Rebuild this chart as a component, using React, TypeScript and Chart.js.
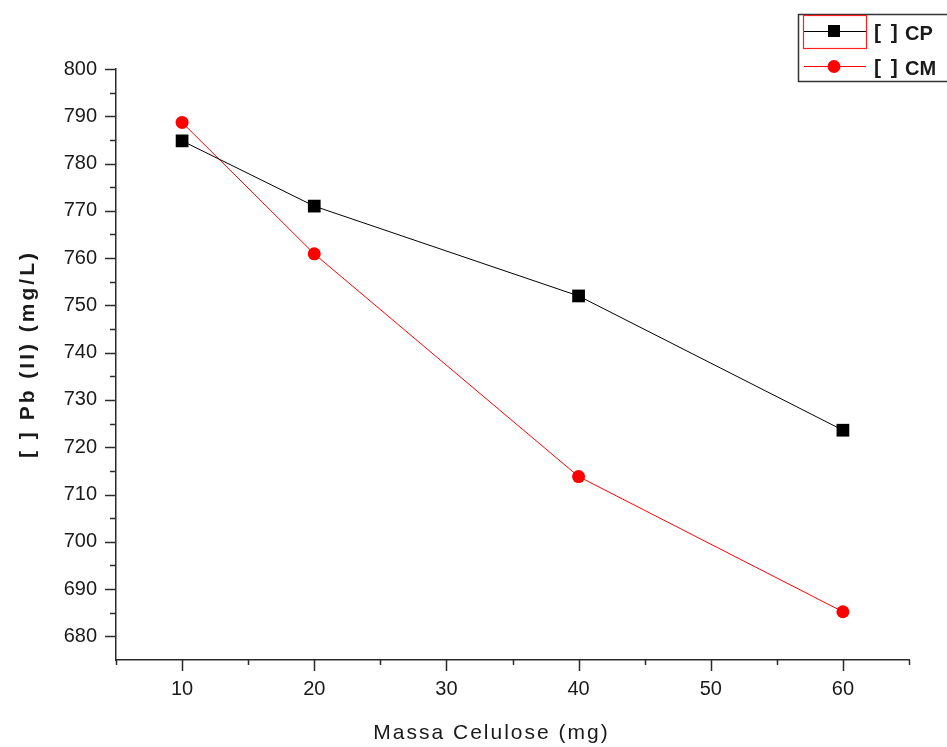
import React, { useEffect, useRef } from "react";
import { Chart, registerables } from "chart.js";

Chart.register(...registerables);

const massa = [10, 20, 40, 60];
const cpValues = [784.8, 771, 752, 723.6];
const cmValues = [788.7, 760.9, 713.8, 685.2];
const xMajorTicks = [10, 20, 30, 40, 50, 60];
const xMinorTicks = [5, 15, 25, 35, 45, 55, 65];
const yMajorTicks = [680, 690, 700, 710, 720, 730, 740, 750, 760, 770, 780, 790, 800];
const yMinorTicks = [685, 695, 705, 715, 725, 735, 745, 755, 765, 775, 785, 795];
const seriesNames = ["CP", "CM"];
const xTitle = "Massa Celulose (mg)";
const yTitle = "[ ] Pb (II) (mg/L)";

const AXIS = "#2b2b2b";
const FONT = "Arial, 'Liberation Sans', sans-serif";

const decorPlugin = {
  id: "decor",
  afterDraw(chart: any) {
    const ctx = chart.ctx as CanvasRenderingContext2D;
    const xs = chart.scales.x;
    const ys = chart.scales.y;
    const area = chart.chartArea;
    ctx.save();
    ctx.strokeStyle = AXIS;
    ctx.lineWidth = 1.5;
    xMajorTicks.forEach((v) => {
      const px = Math.round(xs.getPixelForValue(v)) + 0.5;
      ctx.beginPath();
      ctx.moveTo(px, area.bottom);
      ctx.lineTo(px, area.bottom + 11);
      ctx.stroke();
    });
    xMinorTicks.forEach((v) => {
      const px = Math.round(xs.getPixelForValue(v)) + 0.5;
      ctx.beginPath();
      ctx.moveTo(px, area.bottom);
      ctx.lineTo(px, area.bottom + 5);
      ctx.stroke();
    });
    yMajorTicks.forEach((v) => {
      const py = Math.round(ys.getPixelForValue(v)) + 0.5;
      ctx.beginPath();
      ctx.moveTo(area.left, py);
      ctx.lineTo(area.left - 11, py);
      ctx.stroke();
    });
    yMinorTicks.forEach((v) => {
      const py = Math.round(ys.getPixelForValue(v)) + 0.5;
      ctx.beginPath();
      ctx.moveTo(area.left, py);
      ctx.lineTo(area.left - 6, py);
      ctx.stroke();
    });

    ctx.fillStyle = "#1a1a1a";
    (ctx as any).letterSpacing = "2px";
    ctx.font = `21px ${FONT}`;
    ctx.textAlign = "center";
    ctx.textBaseline = "middle";
    ctx.fillText(xTitle, (area.left + area.right) / 2 - 21, 733);

    ctx.save();
    ctx.translate(28, 354);
    ctx.rotate(-Math.PI / 2);
    (ctx as any).letterSpacing = "3px";
    ctx.font = `bold 21px ${FONT}`;
    ctx.fillText(yTitle, 0, 0);
    ctx.restore();
    (ctx as any).letterSpacing = "0px";

    // legend
    ctx.strokeStyle = "#333";
    ctx.lineWidth = 1.5;
    ctx.strokeRect(798.5, 14.5, 160, 67);
    ctx.strokeStyle = "#ff2020";
    ctx.lineWidth = 1.2;
    ctx.strokeRect(803.5, 15.5, 63, 33);

    ctx.strokeStyle = "#000";
    ctx.lineWidth = 1;
    ctx.beginPath();
    ctx.moveTo(804, 31.5);
    ctx.lineTo(866, 31.5);
    ctx.stroke();
    ctx.fillStyle = "#000";
    ctx.fillRect(828, 25, 12, 12);
    ctx.strokeStyle = "#ff0000";
    ctx.beginPath();
    ctx.moveTo(804, 66.5);
    ctx.lineTo(866, 66.5);
    ctx.stroke();
    ctx.fillStyle = "#ff0000";
    ctx.beginPath();
    ctx.arc(834, 66.5, 6.5, 0, Math.PI * 2);
    ctx.fill();

    ctx.textAlign = "left";
    ctx.textBaseline = "middle";
    ctx.fillStyle = "#1a1a1a";
    ctx.font = `bold 21px ${FONT}`;
    (ctx as any).letterSpacing = "2px";
    ctx.fillText("[ ]", 874, 33);
    ctx.fillText("[ ]", 874, 68);
    (ctx as any).letterSpacing = "0px";
    ctx.font = `bold 20px ${FONT}`;
    ctx.fillText(seriesNames[0], 905, 34);
    ctx.fillText(seriesNames[1], 905, 69);
    ctx.restore();
  },
};

export default function App() {
  const ref = useRef<HTMLCanvasElement>(null);
  useEffect(() => {
    document.body.style.margin = "0";
    const canvas = ref.current!;
    const chart = new Chart(canvas, {
      type: "line",
      data: {
        datasets: [
          {
            label: seriesNames[0],
            data: massa.map((x, i) => ({ x, y: cpValues[i] })),
            borderColor: "#000",
            backgroundColor: "#000",
            borderWidth: 1,
            pointStyle: "rect",
            pointRadius: 9,
            pointBorderWidth: 0,
            tension: 0,
          },
          {
            label: seriesNames[1],
            data: massa.map((x, i) => ({ x, y: cmValues[i] })),
            borderColor: "#ff0000",
            backgroundColor: "#ff0000",
            borderWidth: 1,
            pointStyle: "circle",
            pointRadius: 6.5,
            pointBorderWidth: 0,
            tension: 0,
          },
        ],
      },
      options: {
        animation: false,
        responsive: false,
        layout: { padding: { top: 69, right: 38, left: 0, bottom: 0 } },
        plugins: { legend: { display: false }, tooltip: { enabled: false } },
        scales: {
          x: {
            type: "linear",
            min: 5,
            max: 65,
            afterFit: (s: any) => { s.height = 87; },
            afterBuildTicks: (s: any) => { s.ticks = xMajorTicks.map((v) => ({ value: v })); },
            grid: { drawOnChartArea: false, drawTicks: true, tickLength: 11, color: "rgba(0,0,0,0)" },
            border: { display: true, color: AXIS, width: 1.5 },
            ticks: { color: "#1a1a1a", font: { family: FONT, size: 20 }, padding: 6, maxRotation: 0 },
          },
          y: {
            type: "linear",
            min: 675,
            max: 800,
            afterFit: (s: any) => { s.width = 116; },
            afterBuildTicks: (s: any) => { s.ticks = yMajorTicks.map((v) => ({ value: v })); },
            grid: { drawOnChartArea: false, drawTicks: true, tickLength: 11, color: "rgba(0,0,0,0)" },
            border: { display: true, color: AXIS, width: 1.5 },
            ticks: { color: "#1a1a1a", font: { family: FONT, size: 20 }, padding: 8 },
          },
        },
      },
      plugins: [decorPlugin],
    });
    return () => chart.destroy();
  }, []);
  return <canvas ref={ref} width={947} height={747} style={{ display: "block" }} />;
}
